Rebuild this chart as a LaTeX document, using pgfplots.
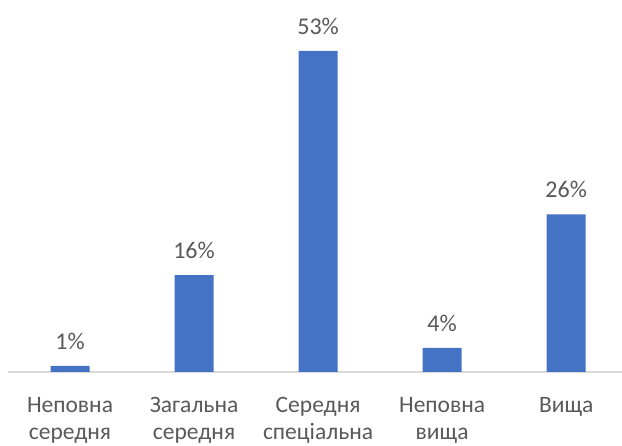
\documentclass[border=0pt]{standalone}
\usepackage{pgfplots}
\pgfplotsset{compat=1.18}
\usepackage{fontspec}
\setmainfont{Carlito}
\definecolor{barblue}{HTML}{4472C4}
\definecolor{txt}{HTML}{595959}
\definecolor{axisgray}{HTML}{D9D9D9}
\begin{document}
\begin{tikzpicture}[x=1pt,y=1pt]
\useasboundingbox (0,0) rectangle (622,446);
\begin{axis}[at={(8pt,74pt)}, anchor=south west, scale only axis,
  width=614pt, height=363.6pt,
  ymin=0, ymax=60, xmin=-0.5, xmax=4.45,
  ybar, bar width=39pt,
  hide y axis,
  axis x line=bottom, axis line style={-, draw=axisgray, line width=1.2pt},
  xtick=data, xtick style={draw=none},
  /pgf/number format/assume math mode=true,
  xticklabels={{Неповна\\середня},{Загальна\\середня},{Середня\\спеціальна},{Неповна\\вища},{Вища}},
  xticklabel style={align=center, font=\fontsize{23.5}{27}\selectfont, text=txt, yshift=-20pt},
  nodes near coords={\pgfmathprintnumber{\pgfplotspointmeta}\%},
  nodes near coords style={font=\fontsize{24}{27}\selectfont, text=txt, yshift=13pt},
  clip=false]
\addplot[fill=barblue, draw=none] coordinates {(0,1) (1,16) (2,53) (3,4) (4,26)};
\end{axis}
\end{tikzpicture}
\end{document}
